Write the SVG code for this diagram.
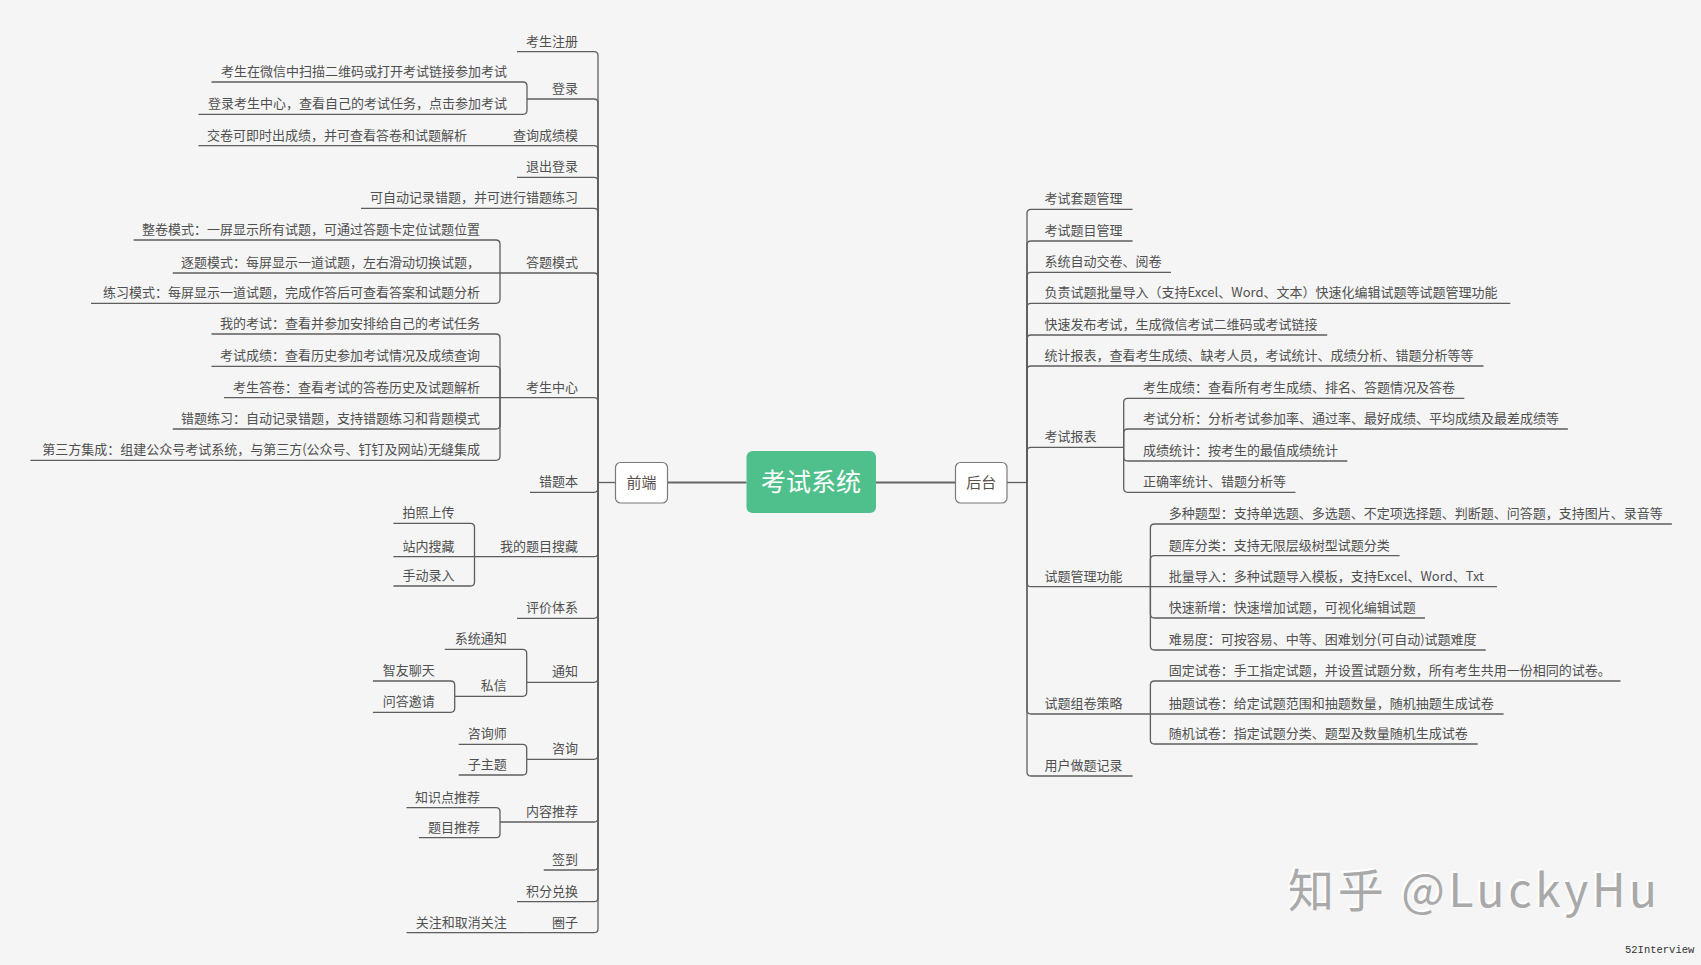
<svg xmlns="http://www.w3.org/2000/svg" width="1701" height="965" viewBox="0 0 1701 965">
<defs>
<style>
.bg{fill:#f5f5f5}
.ln{fill:none;stroke:#5e5e5e;stroke-width:1.3}
.main{fill:none;stroke:#666;stroke-width:2}
.t{font-family:"Noto Sans CJK SC","Liberation Sans",sans-serif;font-size:13px;fill:#505050}
.l{text-anchor:end}
.box{fill:#ffffff;stroke:#7a7a7a;stroke-width:1.2}
.bt{font-family:"Noto Sans CJK SC","Liberation Sans",sans-serif;font-size:15px;fill:#5a4f4a;text-anchor:middle}
.ct{font-family:"Noto Sans CJK SC","Liberation Sans",sans-serif;font-size:25px;fill:#ffffff;text-anchor:middle}
.wm{font-family:"Noto Sans CJK SC","Liberation Sans",sans-serif;font-size:46px}
</style>
</defs>
<rect class="bg" x="0" y="0" width="1701" height="965"/>

<g id="connectors">
<path class="main" d="M668 482.5 H746.5"/>
<path class="main" d="M876 482.5 H955"/>
<path class="ln" d="M598 482.5 H615"/>
<path class="ln" d="M1007 482.5 H1027"/>
<!-- left level 1 -->
<path class="ln" d="M517 51.7 H594 Q598 51.7 598 55.7 V482"/>
<path class="ln" d="M527 99 H594 Q598 99 598 103 V482"/>
<path class="ln" d="M487 145.7 H594 Q598 145.7 598 149.7 V482"/>
<path class="ln" d="M517 177.3 H594 Q598 177.3 598 181.3 V482"/>
<path class="ln" d="M361 208.3 H594 Q598 208.3 598 212.3 V482"/>
<path class="ln" d="M500 273 H594 Q598 273 598 277 V482"/>
<path class="ln" d="M500 397.7 H594 Q598 397.7 598 401.7 V482"/>
<path class="ln" d="M530 492.3 H594 Q598 492.3 598 488.3 V482"/>
<path class="ln" d="M474.5 556.7 H594 Q598 556.7 598 552.7 V482"/>
<path class="ln" d="M517 618.3 H594 Q598 618.3 598 614.3 V482"/>
<path class="ln" d="M526.7 682.3 H594 Q598 682.3 598 678.3 V482"/>
<path class="ln" d="M526.7 759.3 H594 Q598 759.3 598 755.3 V482"/>
<path class="ln" d="M500 822 H594 Q598 822 598 818 V482"/>
<path class="ln" d="M543.7 870 H594 Q598 870 598 866 V482"/>
<path class="ln" d="M517 901.7 H594 Q598 901.7 598 897.7 V482"/>
<path class="ln" d="M526.7 932.7 H594 Q598 932.7 598 928.7 V482"/>
<!-- left level 2 -->
<path class="ln" d="M211.5 82 H523 Q527 82 527 86 V99"/>
<path class="ln" d="M198.5 114.3 H523 Q527 114.3 527 110.3 V99"/>
<path class="ln" d="M198.5 145.7 H487"/>
<path class="ln" d="M133.6 240 H496 Q500 240 500 244 V273"/>
<path class="ln" d="M172.8 273 H500"/>
<path class="ln" d="M91 303.3 H496 Q500 303.3 500 299.3 V273"/>
<path class="ln" d="M211.5 334 H496 Q500 334 500 338 V397.7"/>
<path class="ln" d="M211.5 366.3 H496 Q500 366.3 500 370.3 V397.7"/>
<path class="ln" d="M224 397.7 H500"/>
<path class="ln" d="M172.8 429 H496 Q500 429 500 425 V397.7"/>
<path class="ln" d="M30.4 460.3 H496 Q500 460.3 500 456.3 V397.7"/>
<path class="ln" d="M393.4 523.3 H470.5 Q474.5 523.3 474.5 527.3 V556.7"/>
<path class="ln" d="M393.4 556.7 H474.5"/>
<path class="ln" d="M393.4 586 H470.5 Q474.5 586 474.5 582 V556.7"/>
<path class="ln" d="M444.8 649.3 H522.7 Q526.7 649.3 526.7 653.3 V682.3"/>
<path class="ln" d="M454.7 696.3 H522.7 Q526.7 696.3 526.7 692.3 V682.3"/>
<path class="ln" d="M372.9 681 H450.7 Q454.7 681 454.7 685 V696.3"/>
<path class="ln" d="M372.9 712.3 H450.7 Q454.7 712.3 454.7 708.3 V696.3"/>
<path class="ln" d="M458.7 744.3 H522.7 Q526.7 744.3 526.7 748.3 V759.3"/>
<path class="ln" d="M458.7 775 H522.7 Q526.7 775 526.7 771 V759.3"/>
<path class="ln" d="M406.5 807.7 H496 Q500 807.7 500 811.7 V822"/>
<path class="ln" d="M419 837.7 H496 Q500 837.7 500 833.7 V822"/>
<path class="ln" d="M406.5 932.7 H526.7"/>
<!-- right level 1 -->
<path class="ln" d="M1132.6 209.3 H1031 Q1027 209.3 1027 213.3 V482"/>
<path class="ln" d="M1132.6 241 H1031 Q1027 241 1027 245 V482"/>
<path class="ln" d="M1171 272.3 H1031 Q1027 272.3 1027 276.3 V482"/>
<path class="ln" d="M1510.3 303.3 H1031 Q1027 303.3 1027 307.3 V482"/>
<path class="ln" d="M1327.2 335 H1031 Q1027 335 1027 339 V482"/>
<path class="ln" d="M1483.5 366 H1031 Q1027 366 1027 370 V482"/>
<path class="ln" d="M1123.7 447.3 H1031 Q1027 447.3 1027 451.3 V482"/>
<path class="ln" d="M1150.4 586.7 H1031 Q1027 586.7 1027 582.7 V482"/>
<path class="ln" d="M1150.4 714 H1031 Q1027 714 1027 710 V482"/>
<path class="ln" d="M1132.6 776 H1031 Q1027 776 1027 772 V482"/>
<!-- right level 2 -->
<path class="ln" d="M1464.3 398.3 H1127.7 Q1123.7 398.3 1123.7 402.3 V447.3"/>
<path class="ln" d="M1567.9 429 H1127.7 Q1123.7 429 1123.7 433 V447.3"/>
<path class="ln" d="M1347.3 461 H1127.7 Q1123.7 461 1123.7 457 V447.3"/>
<path class="ln" d="M1295.5 492.3 H1127.7 Q1123.7 492.3 1123.7 488.3 V447.3"/>
<path class="ln" d="M1671.9 524 H1154.4 Q1150.4 524 1150.4 528 V586.7"/>
<path class="ln" d="M1399.6 555.7 H1154.4 Q1150.4 555.7 1150.4 559.7 V586.7"/>
<path class="ln" d="M1496.9 586.7 H1150.4"/>
<path class="ln" d="M1425 618 H1154.4 Q1150.4 618 1150.4 614 V586.7"/>
<path class="ln" d="M1485.7 650 H1154.4 Q1150.4 650 1150.4 646 V586.7"/>
<path class="ln" d="M1620.5 681 H1154.4 Q1150.4 681 1150.4 685 V714"/>
<path class="ln" d="M1503.6 714 H1150.4"/>
<path class="ln" d="M1477.7 744 H1154.4 Q1150.4 744 1150.4 740 V714"/>
</g>

<g id="n-center">
<rect x="746.5" y="451" width="129.5" height="62" rx="6" fill="#4fbf8b"/>
<text class="ct" x="811" y="491">考试系统</text>
</g>
<g id="n-frontend">
<rect class="box" x="615.5" y="462.5" width="52" height="40.5" rx="5"/>
<text class="bt" x="641.5" y="488">前端</text>
</g>
<g id="n-backend">
<rect class="box" x="955.5" y="462.5" width="51.5" height="40.5" rx="5"/>
<text class="bt" x="981.2" y="488">后台</text>
</g>

<!-- left level 1 -->
<g id="n-l01"><text class="t l" x="578" y="45.7">考生注册</text></g>
<g id="n-l02"><text class="t l" x="578" y="93">登录</text></g>
<g id="n-l02a"><text class="t l" x="507" y="76">考生在微信中扫描二维码或打开考试链接参加考试</text></g>
<g id="n-l02b"><text class="t l" x="507" y="108.3">登录考生中心，查看自己的考试任务，点击参加考试</text></g>
<g id="n-l03"><text class="t l" x="578" y="139.7">查询成绩模</text></g>
<g id="n-l03a"><text class="t l" x="467" y="139.7">交卷可即时出成绩，并可查看答卷和试题解析</text></g>
<g id="n-l04"><text class="t l" x="578" y="171.3">退出登录</text></g>
<g id="n-l05"><text class="t l" x="578" y="202.3">可自动记录错题，并可进行错题练习</text></g>
<g id="n-l06"><text class="t l" x="578" y="267">答题模式</text></g>
<g id="n-l06a"><text class="t l" x="480" y="234">整卷模式：一屏显示所有试题，可通过答题卡定位试题位置</text></g>
<g id="n-l06b"><text class="t l" x="480" y="267">逐题模式：每屏显示一道试题，左右滑动切换试题，</text></g>
<g id="n-l06c"><text class="t l" x="480" y="297.3">练习模式：每屏显示一道试题，完成作答后可查看答案和试题分析</text></g>
<g id="n-l07"><text class="t l" x="578" y="391.7">考生中心</text></g>
<g id="n-l07a"><text class="t l" x="480" y="328">我的考试：查看并参加安排给自己的考试任务</text></g>
<g id="n-l07b"><text class="t l" x="480" y="360.3">考试成绩：查看历史参加考试情况及成绩查询</text></g>
<g id="n-l07c"><text class="t l" x="480" y="391.7">考生答卷：查看考试的答卷历史及试题解析</text></g>
<g id="n-l07d"><text class="t l" x="480" y="423">错题练习：自动记录错题，支持错题练习和背题模式</text></g>
<g id="n-l07e"><text class="t l" x="480" y="454.3">第三方集成：组建公众号考试系统，与第三方(公众号、钉钉及网站)无缝集成</text></g>
<g id="n-l08"><text class="t l" x="578" y="486.3">错题本</text></g>
<g id="n-l09"><text class="t l" x="578" y="550.7">我的题目搜藏</text></g>
<g id="n-l09a"><text class="t l" x="454.5" y="517.3">拍照上传</text></g>
<g id="n-l09b"><text class="t l" x="454.5" y="550.7">站内搜藏</text></g>
<g id="n-l09c"><text class="t l" x="454.5" y="580">手动录入</text></g>
<g id="n-l10"><text class="t l" x="578" y="612.3">评价体系</text></g>
<g id="n-l11"><text class="t l" x="578" y="676.3">通知</text></g>
<g id="n-l11a"><text class="t l" x="506.7" y="643.3">系统通知</text></g>
<g id="n-l11b"><text class="t l" x="506.7" y="690.3">私信</text></g>
<g id="n-l11b1"><text class="t l" x="434.7" y="675">智友聊天</text></g>
<g id="n-l11b2"><text class="t l" x="434.7" y="706.3">问答邀请</text></g>
<g id="n-l12"><text class="t l" x="578" y="753.3">咨询</text></g>
<g id="n-l12a"><text class="t l" x="506.7" y="738.3">咨询师</text></g>
<g id="n-l12b"><text class="t l" x="506.7" y="769">子主题</text></g>
<g id="n-l13"><text class="t l" x="578" y="816">内容推荐</text></g>
<g id="n-l13a"><text class="t l" x="480" y="801.7">知识点推荐</text></g>
<g id="n-l13b"><text class="t l" x="480" y="831.7">题目推荐</text></g>
<g id="n-l14"><text class="t l" x="578" y="864">签到</text></g>
<g id="n-l15"><text class="t l" x="578" y="895.7">积分兑换</text></g>
<g id="n-l16"><text class="t l" x="578" y="926.7">圈子</text></g>
<g id="n-l16a"><text class="t l" x="506.7" y="926.7">关注和取消关注</text></g>

<!-- right level 1 -->
<g id="n-r01"><text class="t" x="1044.6" y="203.3">考试套题管理</text></g>
<g id="n-r02"><text class="t" x="1044.6" y="235">考试题目管理</text></g>
<g id="n-r03"><text class="t" x="1044.6" y="266.3">系统自动交卷、阅卷</text></g>
<g id="n-r04"><text class="t" x="1044.6" y="297.3">负责试题批量导入（支持Excel、Word、文本）快速化编辑试题等试题管理功能</text></g>
<g id="n-r05"><text class="t" x="1044.6" y="329">快速发布考试，生成微信考试二维码或考试链接</text></g>
<g id="n-r06"><text class="t" x="1044.6" y="360">统计报表，查看考生成绩、缺考人员，考试统计、成绩分析、错题分析等等</text></g>
<g id="n-r07"><text class="t" x="1044.6" y="441.3">考试报表</text></g>
<g id="n-r07a"><text class="t" x="1142.9" y="392.3">考生成绩：查看所有考生成绩、排名、答题情况及答卷</text></g>
<g id="n-r07b"><text class="t" x="1142.9" y="423">考试分析：分析考试参加率、通过率、最好成绩、平均成绩及最差成绩等</text></g>
<g id="n-r07c"><text class="t" x="1142.9" y="455">成绩统计：按考生的最值成绩统计</text></g>
<g id="n-r07d"><text class="t" x="1142.9" y="486.3">正确率统计、错题分析等</text></g>
<g id="n-r08"><text class="t" x="1044.6" y="580.7">试题管理功能</text></g>
<g id="n-r08a"><text class="t" x="1168.8" y="518">多种题型：支持单选题、多选题、不定项选择题、判断题、问答题，支持图片、录音等</text></g>
<g id="n-r08b"><text class="t" x="1168.8" y="549.7">题库分类：支持无限层级树型试题分类</text></g>
<g id="n-r08c"><text class="t" x="1168.8" y="580.7">批量导入：多种试题导入模板，支持Excel、Word、Txt</text></g>
<g id="n-r08d"><text class="t" x="1168.8" y="612">快速新增：快速增加试题，可视化编辑试题</text></g>
<g id="n-r08e"><text class="t" x="1168.8" y="644">难易度：可按容易、中等、困难划分(可自动)试题难度</text></g>
<g id="n-r09"><text class="t" x="1044.6" y="708">试题组卷策略</text></g>
<g id="n-r09a"><text class="t" x="1168.8" y="675">固定试卷：手工指定试题，并设置试题分数，所有考生共用一份相同的试卷。</text></g>
<g id="n-r09b"><text class="t" x="1168.8" y="708">抽题试卷：给定试题范围和抽题数量，随机抽题生成试卷</text></g>
<g id="n-r09c"><text class="t" x="1168.8" y="738">随机试卷：指定试题分类、题型及数量随机生成试卷</text></g>
<g id="n-r10"><text class="t" x="1044.6" y="770">用户做题记录</text></g>

<g id="watermark">
<text class="wm" x="1286" y="904.5" fill="#ffffff" textLength="369" lengthAdjust="spacing">知乎 @LuckyHu</text>
<text class="wm" x="1288" y="906.7" fill="#a9a9a9" textLength="369" lengthAdjust="spacing">知乎 @LuckyHu</text>
<text x="1625" y="952.5" font-family="Liberation Mono, monospace" font-size="10.5px" fill="#333">52Interview</text>
</g>
</svg>
